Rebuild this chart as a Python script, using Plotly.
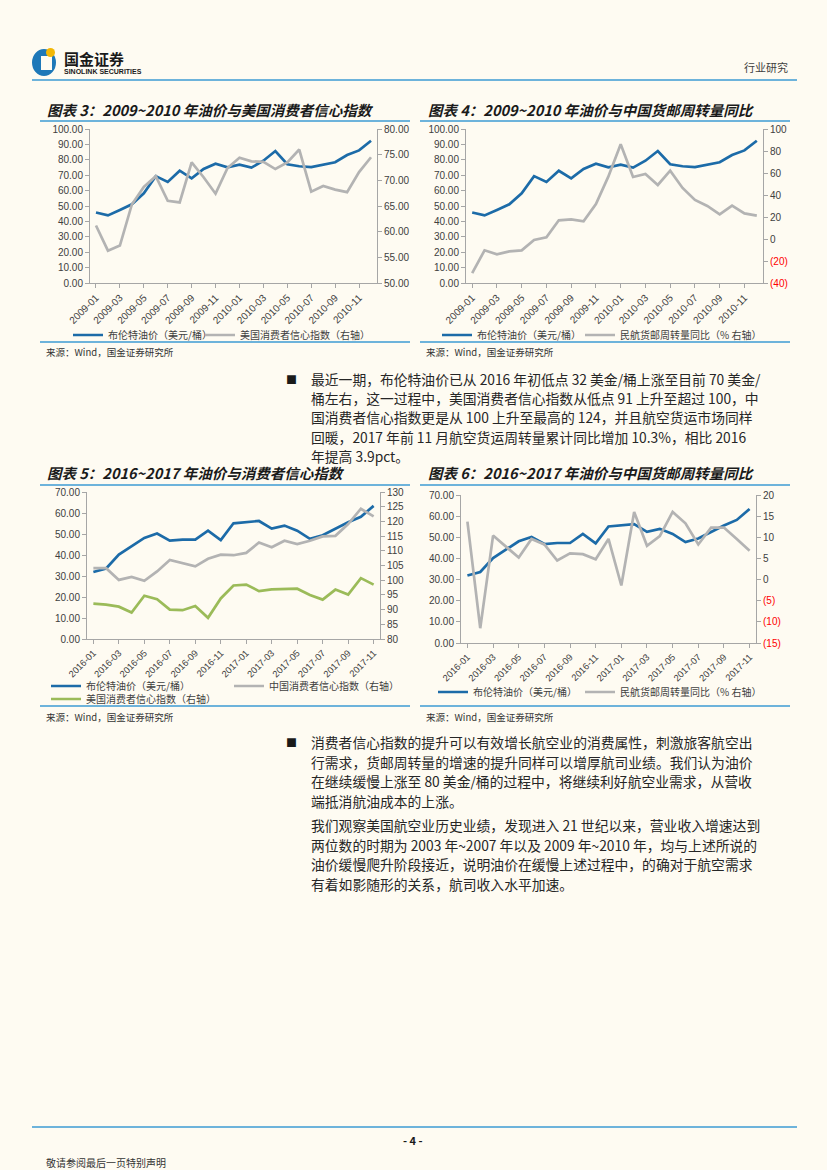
import plotly.graph_objects as go

W, H = 827, 1170
BG = "#FEFBF2"
BLUE = "#1C6BA8"
GRAY = "#B3B3B3"
GREEN = "#9BBB59"
RULE = "#3D9BD3"
AXC = "#A6A6A6"
TXT = "#404040"
CJK = "Noto Sans CJK SC"

def px(x):
    return x / W

def py(y):
    return 1 - y / H

# ---------------- data ----------------
months_0910 = ["2009-01", "2009-02", "2009-03", "2009-04", "2009-05", "2009-06",
               "2009-07", "2009-08", "2009-09", "2009-10", "2009-11", "2009-12",
               "2010-01", "2010-02", "2010-03", "2010-04", "2010-05", "2010-06",
               "2010-07", "2010-08", "2010-09", "2010-10", "2010-11", "2010-12"]
brent_0910 = [45.8, 43.9, 47.4, 51.1, 58.2, 69.4, 65.6, 72.9, 68.0, 74.0, 77.5, 75.1,
              76.8, 74.9, 79.4, 85.7, 77.1, 75.8, 75.3, 76.8, 78.4, 83.1, 86.1, 92.4]
us_cci_0910 = [61.2, 56.3, 57.3, 65.3, 68.7, 70.8, 66.0, 65.7, 73.5, 70.6, 67.4, 72.4,
               74.4, 73.7, 73.6, 72.2, 73.5, 76.0, 67.8, 68.9, 68.2, 67.7, 71.6, 74.5]
cargo_0910 = [-31.0, -10.3, -13.9, -11.2, -10.3, -0.9, 1.5, 17.0, 17.9, 16.1, 31.8, 56.7,
              86.1, 56.4, 59.1, 49.1, 62.1, 46.4, 35.5, 30.0, 22.4, 30.3, 23.3, 21.2]

months_1617 = ["2016-01", "2016-02", "2016-03", "2016-04", "2016-05", "2016-06",
               "2016-07", "2016-08", "2016-09", "2016-10", "2016-11", "2016-12",
               "2017-01", "2017-02", "2017-03", "2017-04", "2017-05", "2017-06",
               "2017-07", "2017-08", "2017-09", "2017-10", "2017-11"]
brent_1617 = [31.9, 33.6, 40.2, 44.0, 48.1, 50.2, 46.8, 47.3, 47.3, 51.6, 47.1, 55.1,
              55.6, 56.2, 52.6, 54.0, 51.6, 47.7, 49.4, 52.5, 55.6, 58.2, 63.4]
china_cci_1617 = [104.1, 104.1, 100.1, 101.1, 99.8, 103.0, 106.9, 105.9, 104.7, 107.3,
                  108.7, 108.5, 109.3, 112.8, 111.2, 113.4, 112.3, 113.4, 114.9, 115.1,
                  119.1, 124.3, 121.7]
us_cci_1617 = [92.0, 91.7, 91.0, 89.0, 94.7, 93.5, 90.0, 89.8, 91.2, 87.2, 93.8, 98.2,
               98.5, 96.3, 96.9, 97.0, 97.1, 95.0, 93.4, 96.8, 95.1, 100.7, 98.5]
cargo_1617 = [13.7, -11.5, 10.4, 7.8, 5.2, 9.6, 8.3, 4.5, 6.2, 6.0, 4.8, 9.6,
              -1.4, 16.0, 8.0, 10.3, 16.0, 13.3, 8.3, 12.3, 12.3, 9.6, 6.8]

tick_0910 = months_0910[::2]
tick_1617 = months_1617[::2]

right4_vals = [-40, -20, 0, 20, 40, 60, 80, 100]
right4_text = ['<span style="color:#FF0000">(40)</span>', '<span style="color:#FF0000">(20)</span>',
               "0", "20", "40", "60", "80", "100"]
right6_vals = [-15, -10, -5, 0, 5, 10, 15, 20]
right6_text = ['<span style="color:#FF0000">(15)</span>', '<span style="color:#FF0000">(10)</span>',
               '<span style="color:#FF0000">(5)</span>', "0", "5", "10", "15", "20"]

name_brent = "布伦特油价（美元/桶）"
name_us = "美国消费者信心指数（右轴）"
name_cn = "中国消费者信心指数（右轴）"
name_cargo = "民航货邮周转量同比（% 右轴）"

fig = go.Figure()

def line(x, y, xa, ya, color, name, legend):
    fig.add_trace(go.Scatter(x=x, y=y, xaxis=xa, yaxis=ya, mode="lines", name=name,
                             legend=legend, showlegend=True,
                             line=dict(color=color, width=2.7), hoverinfo="skip"))

# chart 3
line(months_0910, brent_0910, "x", "y", BLUE, name_brent, "legend")
line(months_0910, us_cci_0910, "x", "y2", GRAY, name_us, "legend2")
# chart 4
line(months_0910, brent_0910, "x2", "y3", BLUE, name_brent, "legend3")
line(months_0910, cargo_0910, "x2", "y4", GRAY, name_cargo, "legend4")
# chart 5
line(months_1617, brent_1617, "x3", "y5", BLUE, name_brent, "legend5")
line(months_1617, china_cci_1617, "x3", "y6", GRAY, name_cn, "legend6")
line(months_1617, us_cci_1617, "x3", "y6", GREEN, name_us, "legend7")
# chart 6
line(months_1617, brent_1617, "x4", "y7", BLUE, name_brent, "legend8")
line(months_1617, cargo_1617, "x4", "y8", GRAY, name_cargo, "legend9")

tickfont = dict(family="Liberation Sans", size=10, color=TXT)

def xaxis(x0, x1, anchor, cats, ticks, fs):
    return dict(type="category", domain=[px(x0), px(x1)], anchor=anchor,
                range=[-0.5, len(cats) - 0.5], tickmode="array", tickvals=ticks,
                ticktext=ticks, tickangle=-45,
                tickfont=dict(family="Liberation Sans", size=fs, color=TXT),
                showline=True, linecolor=AXC, linewidth=1, ticks="outside", ticklen=4,
                tickcolor=AXC, showgrid=False, zeroline=False, fixedrange=True)

def yleft(y0, y1, anchor, rng, dtick):
    return dict(domain=[py(y1), py(y0)], anchor=anchor, range=rng, dtick=dtick,
                tick0=0, tickformat=".2f", tickfont=tickfont, showline=True, linecolor=AXC,
                ticks="outside", ticklen=4, tickcolor=AXC, showgrid=False, zeroline=False)

def yright(over, anchor, rng, **kw):
    d = dict(overlaying=over, side="right", anchor=anchor, range=rng, tickfont=tickfont,
             showline=True, linecolor=AXC, ticks="outside", ticklen=4, tickcolor=AXC,
             showgrid=False, zeroline=False)
    d.update(kw)
    return d

layout = dict(
    width=W, height=H, margin=dict(l=0, r=0, t=0, b=0, autoexpand=False),
    showlegend=True,
    paper_bgcolor=BG, plot_bgcolor=BG, font=dict(family=CJK, color=TXT),
    xaxis=xaxis(90, 377, "y", months_0910, tick_0910, 10),
    yaxis=yleft(129, 283, "x", [0, 100], 10),
    yaxis2=yright("y", "x", [50, 80], dtick=5, tick0=50, tickformat=".2f"),
    xaxis2=xaxis(466, 763, "y3", months_0910, tick_0910, 10),
    yaxis3=yleft(129, 283, "x2", [0, 100], 10),
    yaxis4=yright("y3", "x2", [-40, 100], tickmode="array", tickvals=right4_vals,
                  ticktext=right4_text),
    xaxis3=xaxis(87, 380, "y5", months_1617, tick_1617, 9.3),
    yaxis5=yleft(492, 639, "x3", [0, 70], 10),
    yaxis6=yright("y5", "x3", [80, 130], dtick=5, tick0=80),
    xaxis4=xaxis(461, 756, "y7", months_1617, tick_1617, 9.3),
    yaxis7=yleft(495, 643, "x4", [0, 70], 10),
    yaxis8=yright("y7", "x4", [-15, 20], tickmode="array", tickvals=right6_vals,
                  ticktext=right6_text),
)

def leg(x, y):
    return dict(x=px(x), y=py(y), xanchor="left", yanchor="middle", orientation="h",
                bgcolor="rgba(0,0,0,0)", font=dict(family=CJK, size=10, color=TXT),
                itemwidth=30, borderwidth=0, itemclick=False, itemdoubleclick=False)

layout["legend"] = leg(68, 335)
layout["legend2"] = leg(200, 335)
layout["legend3"] = leg(437, 335)
layout["legend4"] = leg(580, 335)
layout["legend5"] = leg(46, 686)
layout["legend6"] = leg(229, 686)
layout["legend7"] = leg(46, 699)
layout["legend8"] = leg(433, 692)
layout["legend9"] = leg(580, 692)
fig.update_layout(**layout)

# ---------------- shapes ----------------
shapes = []
def hline(x0, x1, y, color=RULE, w=1.6):
    shapes.append(dict(type="line", xref="paper", yref="paper", x0=px(x0), x1=px(x1),
                       y0=py(y), y1=py(y), line=dict(color=color, width=w)))

hline(32, 797, 80)
hline(40, 410, 121); hline(420, 790, 121)
hline(40, 410, 342); hline(420, 790, 342)
hline(40, 410, 485); hline(420, 790, 485)
hline(40, 410, 706); hline(420, 790, 706)
hline(32, 797, 1127)

# logo
shapes.append(dict(type="circle", xref="paper", yref="paper", x0=px(32), x1=px(56),
                   y0=py(76), y1=py(49), fillcolor="#1E78B8", line=dict(width=0)))
shapes.append(dict(type="rect", xref="paper", yref="paper", x0=px(41), x1=px(52),
                   y0=py(70), y1=py(56), fillcolor=BG, line=dict(width=0)))
shapes.append(dict(type="circle", xref="paper", yref="paper", x0=px(46), x1=px(55),
                   y0=py(57), y1=py(48), fillcolor="#F2B705", line=dict(width=0)))
fig.update_layout(shapes=shapes)

# ---------------- text ----------------
def text(x, y, s, size=14, color="#262626", anchor="left", family=CJK):
    fig.add_annotation(x=px(x), y=py(y), xref="paper", yref="paper", text=s,
                       showarrow=False, xanchor=anchor, yanchor="middle",
                       font=dict(family=family, size=size, color=color))

text(62, 58, "<b>国金证券</b>", size=15, color="#1a1a1a")
text(62, 71, "<b>SINOLINK SECURITIES</b>", size=7, color="#1a1a1a", family="Liberation Sans")
text(790, 67, "行业研究", size=11, color="#404040", anchor="right")

titles = [(45, 109, "图表 3：2009~2010 年油价与美国消费者信心指数"),
          (426, 109, "图表 4：2009~2010 年油价与中国货邮周转量同比"),
          (45, 472, "图表 5：2016~2017 年油价与消费者信心指数"),
          (426, 472, "图表 6：2016~2017 年油价与中国货邮周转量同比")]
for x, y, s in titles:
    text(x, y, "<b><i>" + s + "</i></b>", size=14.5, color="#1a1a1a")

src = "来源：Wind，国金证券研究所"
for x, y in [(44, 352), (424, 352), (44, 717), (424, 717)]:
    text(x, y, src, size=9.5, color="#333333")

p1 = ["最近一期，布伦特油价已从 2016 年初低点 32 美金/桶上涨至目前 70 美金/",
      "桶左右，这一过程中，美国消费者信心指数从低点 91 上升至超过 100，中",
      "国消费者信心指数更是从 100 上升至最高的 124，并且航空货运市场同样",
      "回暖，2017 年前 11 月航空货运周转量累计同比增加 10.3%，相比 2016",
      "年提高 3.9pct。"]
p2 = ["消费者信心指数的提升可以有效增长航空业的消费属性，刺激旅客航空出",
      "行需求，货邮周转量的增速的提升同样可以增厚航司业绩。我们认为油价",
      "在继续缓慢上涨至 80 美金/桶的过程中，将继续利好航空业需求，从营收",
      "端抵消航油成本的上涨。"]
p3 = ["我们观察美国航空业历史业绩，发现进入 21 世纪以来，营业收入增速达到",
      "两位数的时期为 2003 年~2007 年以及 2009 年~2010 年，均与上述所说的",
      "油价缓慢爬升阶段接近，说明油价在缓慢上述过程中，的确对于航空需求",
      "有着如影随形的关系，航司收入水平加速。"]

text(284, 379, "■", size=11, color="#1a1a1a")
for i, s in enumerate(p1):
    text(309, 379 + i * 19.2, s, size=13.8)
text(284, 742, "■", size=11, color="#1a1a1a")
for i, s in enumerate(p2):
    text(309, 742 + i * 19.6, s, size=13.8)
for i, s in enumerate(p3):
    text(309, 825 + i * 19.6, s, size=13.8)

text(413, 1140, "<b>- 4 -</b>", size=11, color="#1a1a1a", anchor="center")
text(44, 1162, "敬请参阅最后一页特别声明", size=10, color="#333333")

fig.write_html("out.html", config={"displayModeBar": False},
               post_script="document.body.style.margin='0';document.body.style.padding='0';"
                           "document.documentElement.style.background='" + BG + "';"
                           "document.body.style.background='" + BG + "';")
